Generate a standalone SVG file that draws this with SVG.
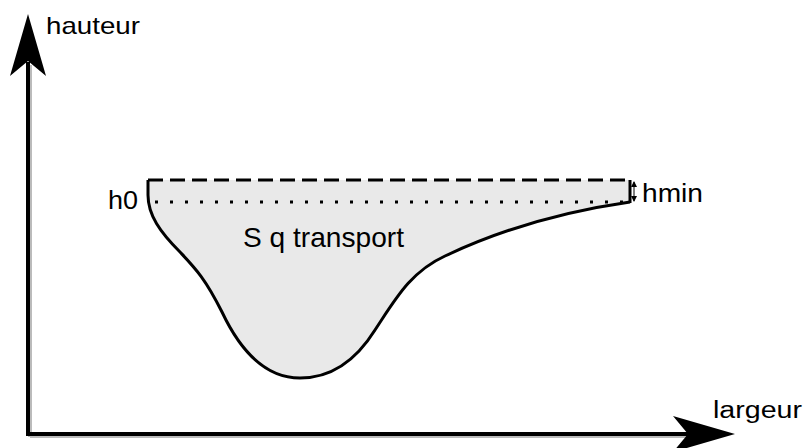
<svg xmlns="http://www.w3.org/2000/svg" width="805" height="448" viewBox="0 0 805 448">
<style>
text{font-family:"Liberation Sans",Arial,sans-serif;fill:#000}
.ax{stroke:#000;stroke-width:4;fill:none}
</style>
<defs>
<marker id="sm" viewBox="0 0 6 6" refX="5" refY="3" markerWidth="6" markerHeight="6" orient="auto-start-reverse" markerUnits="userSpaceOnUse"><path d="M0,0 L6,3 L0,6 Z" fill="#000"/></marker>
</defs>
<g id="axes">
<path d="M29,436 L29,64 M29,435 L690,435" stroke="#bbb" stroke-width="4" fill="none" transform="translate(1,1)"/>
<path class="ax" d="M28,434 L28,62 M26,434 L690,434"/>
<path d="M28,14 L46,76 L28,61 L10,76 Z" fill="#000"/>
<path d="M735,434 L673,416 L688,434 L673,452 Z" fill="#000"/>
</g>
<g id="shape">
<path d="M148,180 L630,180 L630,202 C560,212 500,230 445,256 C410,272 395,300 375,330 C355,362 330,378 300,378 C265,378 240,350 222,312 C205,278 195,268 180,252 C160,232 148,215 148,195 Z" fill="#e9e9e9" stroke="none"/>
<path d="M148,180 L148,195 C148,215 160,232 180,252 C195,268 205,278 222,312 C240,350 265,378 300,378 C330,378 355,362 375,330 C395,300 410,272 445,256 C500,230 560,212 630,202" fill="none" stroke="#000" stroke-width="3"/>
<path d="M148,180 L630,180" stroke="#000" stroke-width="3" stroke-dasharray="15,7" fill="none"/>
<path d="M630,180 L630,203" stroke="#000" stroke-width="3" fill="none"/>
<path d="M155,202 L630,202" stroke="#000" stroke-width="3" stroke-dasharray="3,12" fill="none"/>
</g>
<g id="hmin-arrow">
<path d="M634,182 L634,201" stroke="#000" stroke-width="1" marker-start="url(#sm)" marker-end="url(#sm)"/>
</g>
<g id="labels">
<text x="46" y="34" font-size="24" textLength="94" lengthAdjust="spacingAndGlyphs">hauteur</text>
<text x="713" y="418" font-size="23" textLength="89" lengthAdjust="spacingAndGlyphs">largeur</text>
<text x="108" y="209" font-size="25" textLength="30" lengthAdjust="spacingAndGlyphs">h0</text>
<text x="642" y="202" font-size="26" textLength="61" lengthAdjust="spacingAndGlyphs">hmin</text>
<text x="243" y="247" font-size="28" textLength="161" lengthAdjust="spacingAndGlyphs">S q transport</text>
</g>
</svg>
